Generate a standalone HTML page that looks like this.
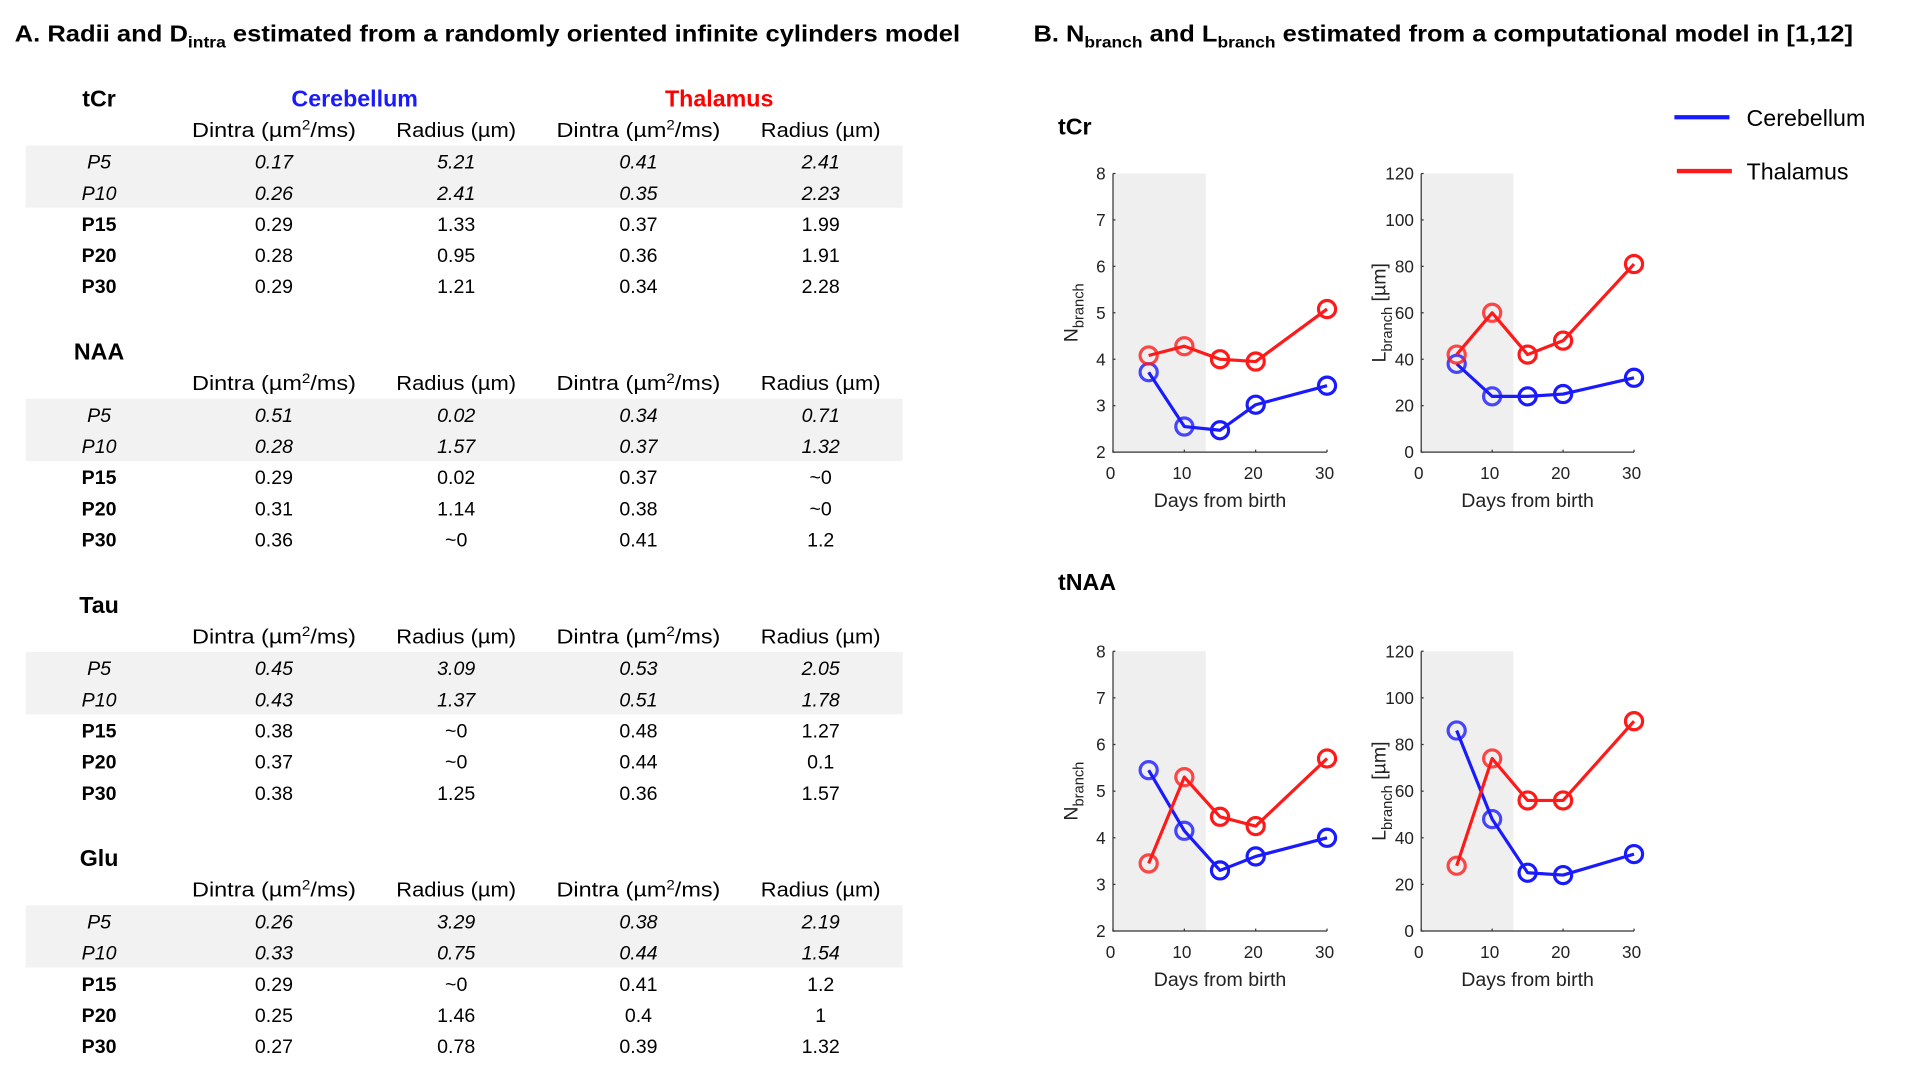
<!DOCTYPE html>
<html><head><meta charset="utf-8">
<style>
html,body{margin:0;padding:0;background:#fff;}
svg{display:block;font-family:"Liberation Sans",sans-serif;}
</style></head>
<body>
<svg id="fig" width="1919" height="1074" viewBox="0 0 1569 879" preserveAspectRatio="none" xmlns="http://www.w3.org/2000/svg">
<rect width="1569" height="879" fill="#fff"/>
<text x="12" y="34" font-size="19" font-weight="bold" textLength="773" lengthAdjust="spacingAndGlyphs">A. Radii and D<tspan dy="5" font-size="13">intra</tspan><tspan dy="-5"> estimated from a randomly oriented infinite cylinders model</tspan></text>
<text x="845" y="34" font-size="19" font-weight="bold" textLength="670" lengthAdjust="spacingAndGlyphs">B. N<tspan dy="5" font-size="13">branch</tspan><tspan dy="-5"> and L</tspan><tspan dy="5" font-size="13">branch</tspan><tspan dy="-5"> estimated from a computational model in [1,12]</tspan></text>
<g id="tables"></g>
<g id="charts"></g>
<g>
<line x1="1369" y1="96" x2="1414" y2="96" stroke="#1a1aff" stroke-width="3.5"/>
<text x="1428" y="103" font-size="19">Cerebellum</text>
<line x1="1371" y1="140" x2="1416" y2="140" stroke="#ff1a1a" stroke-width="3.5"/>
<text x="1428" y="147" font-size="19">Thalamus</text>
</g>
</svg>
<script>
const NS="http://www.w3.org/2000/svg";
// ---------- table data ----------
const metabolites=["tCr","NAA","Tau","Glu"];
const ages=["P5","P10","P15","P20","P30"];
const tCrVals=[["0.17","5.21","0.41","2.41"],["0.26","2.41","0.35","2.23"],["0.29","1.33","0.37","1.99"],["0.28","0.95","0.36","1.91"],["0.29","1.21","0.34","2.28"]];
const naaVals=[["0.51","0.02","0.34","0.71"],["0.28","1.57","0.37","1.32"],["0.29","0.02","0.37","~0"],["0.31","1.14","0.38","~0"],["0.36","~0","0.41","1.2"]];
const tauVals=[["0.45","3.09","0.53","2.05"],["0.43","1.37","0.51","1.78"],["0.38","~0","0.48","1.27"],["0.37","~0","0.44","0.1"],["0.38","1.25","0.36","1.57"]];
const gluVals=[["0.26","3.29","0.38","2.19"],["0.33","0.75","0.44","1.54"],["0.29","~0","0.41","1.2"],["0.25","1.46","0.4","1"],["0.27","0.78","0.39","1.32"]];
const allVals=[tCrVals,naaVals,tauVals,gluVals];

function mk(tag,attrs,parent){const e=document.createElementNS(NS,tag);for(const k in attrs)e.setAttribute(k,attrs[k]);parent.appendChild(e);return e;}
const tg=document.getElementById('tables');
const colX=[224,373,522,671];
metabolites.forEach((m,si)=>{
  const base=si*207.3;
  const g=mk('g',{},tg);
  
  
  const band=mk('rect',{x:21,y:119+base,width:717,height:51,fill:'#f2f2f2'},g);
  
  
  const t=mk('text',{x:81,y:87+base,'font-size':19,'font-weight':'bold','text-anchor':'middle'},g);t.textContent=m;
  
  
  if(si===0){
    const c=mk('text',{x:290,y:87,'font-size':19,'font-weight':'bold','text-anchor':'middle',fill:'#1a1aff'},g);c.textContent='Cerebellum';
    
    
    const th=mk('text',{x:588,y:87,'font-size':19,'font-weight':'bold','text-anchor':'middle',fill:'#ff0000'},g);th.textContent='Thalamus';
    
    
  }
  colX.forEach((cx,ci)=>{
    const h=mk('text',{x:cx,y:112+base,'font-size':17,'text-anchor':'middle',textLength:(ci%2===0?134:98),lengthAdjust:'spacingAndGlyphs'},g);
    
    
    if(ci%2===0){h.innerHTML='Dintra (µm<tspan dy="-6" font-size="11">2</tspan><tspan dy="6">/ms)</tspan>';}
    else h.textContent='Radius (µm)';
  });
  ages.forEach((a,ri)=>{
    const y=138+base+ri*25.5;
    const it=ri<2;
    const l=mk('text',{x:81,y:y,'font-size':16,'text-anchor':'middle','font-weight':it?'normal':'bold','font-style':it?'italic':'normal'},g);l.textContent=a;
    
    
    allVals[si][ri].forEach((v,ci)=>{
      const c=mk('text',{x:colX[ci],y:y,'font-size':16,'text-anchor':'middle','font-style':it?'italic':'normal'},g);c.textContent=v;
      
      
    });
  });
});

// ---------- chart data ----------
const days=[5,10,15,20,30];
const xTicks=[0,10,20,30];
const nTicks=[2,3,4,5,6,7,8];
const lTicks=[0,20,40,60,80,100,120];
const tcrNCereb=[3.72,2.55,2.47,3.02,3.43];
const tcrNThal=[4.08,4.28,4.0,3.95,5.08];
const tcrLCereb=[38,24,24,25,32];
const tcrLThal=[42,60,42,48,81];
const naaNCereb=[5.45,4.15,3.3,3.6,4.0];
const naaNThal=[3.45,5.3,4.45,4.25,5.7];
const naaLCereb=[86,48,25,24,33];
const naaLThal=[28,74,56,56,90];
const shadeEnd=13;

const cg=document.getElementById('charts');
function chart(name,left,right,top,bottom,ymin,ymax,yt,ylab,cereb,thal){
  const g=mk('g',{},cg);
  
  
  const sx=v=>left+(v-0)/(30-0)*(right-left);
  const sy=v=>bottom-(v-ymin)/(ymax-ymin)*(bottom-top);
  const sh=mk('rect',{x:sx(0),y:top,width:sx(shadeEnd)-sx(0),height:bottom-top,fill:'#efefef'},g);
  
  
  const ax=mk('path',{d:`M${left},${top}V${bottom}H${right}`,stroke:'#333',fill:'none','stroke-width':1},g);
  
  
  yt.forEach(v=>{
    mk('line',{x1:left,x2:left+2,y1:sy(v),y2:sy(v),stroke:'#333'},g);
    const t=mk('text',{x:left-6,y:sy(v)+5,'font-size':14,'text-anchor':'end',fill:'#222'},g);t.textContent=v;
    
    
  });
  xTicks.forEach(v=>{
    mk('line',{x1:sx(v),x2:sx(v),y1:bottom,y2:bottom-2,stroke:'#333'},g);
    const t=mk('text',{x:sx(v)-2,y:bottom+22,'font-size':14,'text-anchor':'middle',fill:'#222'},g);t.textContent=v;
    
    
  });
  const xl=mk('text',{x:(left+right)/2+0,y:bottom+45,'font-size':16,'text-anchor':'middle',fill:'#222'},g);xl.textContent='Days from birth';
  
  
  const yl=mk('text',{transform:`translate(${left-29},${(top+bottom)/2}) rotate(-90)`,'font-size':16,'text-anchor':'middle',fill:'#222'},g);
  
  
  yl.innerHTML=ylab;
  [[cereb,'#1a1aff','cerebellum'],[thal,'#ff1a1a','thalamus']].forEach(([vals,col,nm])=>{
    const pts=vals.map((v,i)=>sx(days[i])+','+sy(v)).join(' ');
    const pl=mk('polyline',{points:pts,fill:'none',stroke:col,'stroke-width':2.6,'stroke-linejoin':'round'},g);
    
    
    vals.forEach((v,i)=>{
      const c=mk('circle',{cx:sx(days[i]),cy:sy(v),r:7,fill:'none',stroke:col,'stroke-width':2.6,opacity:days[i]<shadeEnd?0.8:1},g);
      
      
    });
  });
}
const nLab='N<tspan dy="5" font-size="12">branch</tspan>';
const lLab='L<tspan dy="5" font-size="12">branch</tspan><tspan dy="-5"> [µm]</tspan>';
chart('chart-tcr-nbranch',910,1085,142,370,2,8,nTicks,nLab,tcrNCereb,tcrNThal);
chart('chart-tcr-lbranch',1162,1336,142,370,0,120,lTicks,lLab,tcrLCereb,tcrLThal);
chart('chart-tnaa-nbranch',910,1085,533,762,2,8,nTicks,nLab,naaNCereb,naaNThal);
chart('chart-tnaa-lbranch',1162,1336,533,762,0,120,lTicks,lLab,naaLCereb,naaLThal);
[['tCr',110],['tNAA',483]].forEach(([s,y])=>{
  const t=mk('text',{x:865,y:y,'font-size':19,'font-weight':'bold'},cg);t.textContent=s;
  
  
});
</script>
</body></html>
